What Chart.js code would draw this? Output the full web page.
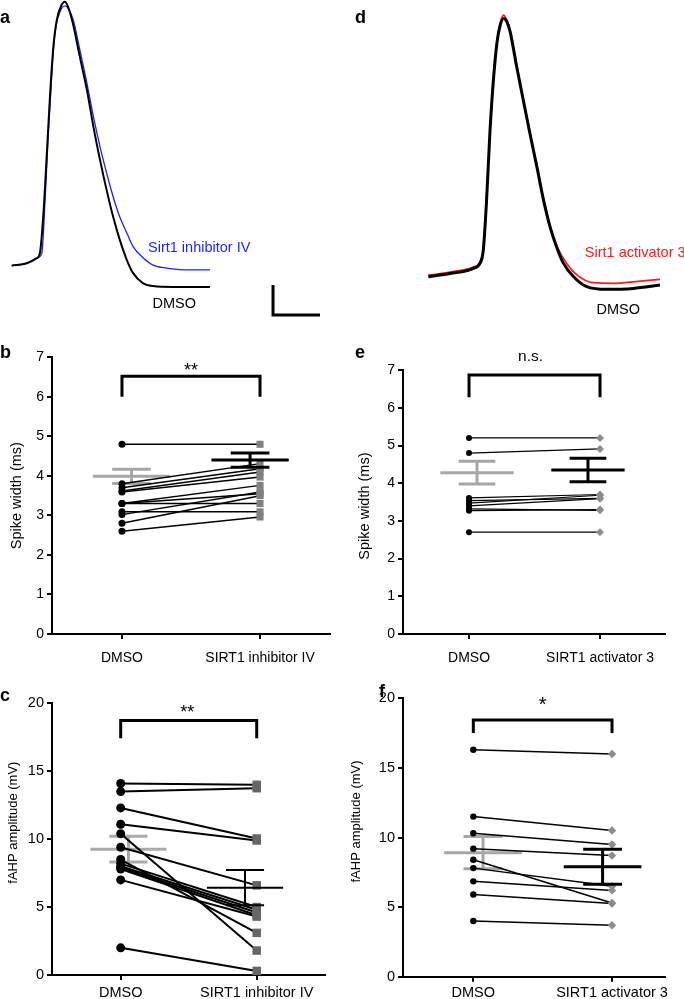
<!DOCTYPE html>
<html>
<head>
<meta charset="utf-8">
<script src="https://cdn.jsdelivr.net/npm/chart.js@4.4.0/dist/chart.umd.min.js"></script>
<style>
  body { margin: 0; background: #fff; width: 684px; height: 999px; position: relative; overflow: hidden;
         font-family: "Liberation Sans", Arial, Helvetica, sans-serif; }
  canvas { position: absolute; }
  .tag { position: absolute; font-weight: bold; font-size: 18px; line-height: 18px; }
</style>
</head>
<body>
<canvas id="ca" width="340" height="320" style="left:0;top:0"></canvas>
<canvas id="cd" width="344" height="320" style="left:340px;top:0"></canvas>
<canvas id="cb" width="340" height="330" style="left:0;top:340px"></canvas>
<canvas id="ce" width="344" height="330" style="left:340px;top:340px"></canvas>
<canvas id="cc" width="340" height="349" style="left:0;top:650px"></canvas>
<canvas id="cf" width="344" height="349" style="left:340px;top:650px"></canvas>
<div class="tag" style="left:0;top:8px">a</div>
<div class="tag" style="left:355px;top:8px">d</div>
<div class="tag" style="left:0;top:343px">b</div>
<div class="tag" style="left:355px;top:343px">e</div>
<div class="tag" style="left:0;top:686px">c</div>
<div class="tag" style="left:379px;top:682px">f</div>
<script>
// ---------- traces (time in ms, membrane potential in mV) ----------
const tA_dmso = [0, 0.32, 0.53, 0.60, 0.67, 0.74, 0.81, 0.88, 0.96, 1.06, 1.13, 1.20, 1.30, 1.45, 1.60, 1.74, 1.88, 2.02, 2.16, 2.30, 2.45, 2.58, 2.79, 3.01, 3.43, 4.22];
const vA_dmso = [-60, -59.2, -57.5, -55.8, -43.8, -24.8, -4.8, 11.9, 21.9, 26.9, 28, 26.3, 20.9, 9.6, -1.4, -13.8, -24.8, -34.8, -43.8, -51.4, -58.1, -62.4, -65.8, -66.8, -67.1, -67.1];
const tA_inh = [0, 0.32, 0.53, 0.64, 0.71, 0.78, 0.85, 0.92, 1.03, 1.13, 1.20, 1.31, 1.45, 1.60, 1.74, 1.88, 2.02, 2.16, 2.30, 2.45, 2.59, 2.80, 3.01, 3.30, 3.72, 4.22];
const vA_inh = [-60, -59.2, -57.5, -55.9, -38.1, -15.8, 2.9, 17.6, 24.7, 26.6, 25.8, 21.9, 11.9, 0.9, -10.4, -20.4, -29.1, -37.1, -43.8, -49.1, -53.8, -57.4, -59.8, -60.8, -61.4, -61.4];

const tD_dmso = [0, 0.46, 0.96, 1.10, 1.17, 1.24, 1.31, 1.38, 1.46, 1.53, 1.60, 1.67, 1.74, 1.88, 2.02, 2.16, 2.31, 2.45, 2.59, 2.73, 2.87, 3.09, 3.37, 3.80, 4.36, 4.93];
const vD_dmso = [-60, -58.9, -57.2, -55.5, -51.1, -34.4, -12.1, 4.6, 17.9, 23.9, 26.1, 25, 21.7, 10, -1.1, -12.1, -23.4, -34.4, -43.4, -50.1, -55.4, -60, -63.3, -64.2, -63.9, -62.8];
const tD_act = [0, 0.46, 0.96, 1.10, 1.17, 1.24, 1.31, 1.38, 1.46, 1.53, 1.60, 1.67, 1.74, 1.88, 2.02, 2.16, 2.31, 2.45, 2.59, 2.73, 2.94, 3.16, 3.51, 3.94, 4.36, 4.93];
const vD_act = [-59.5, -58.5, -56.8, -55.2, -51, -34, -12, 4.8, 18.2, 24.5, 27.2, 25.5, 22, 10.4, -0.8, -11.8, -23, -34, -43, -49.6, -55.5, -59.4, -62, -62.2, -61.7, -60.9];

// scale bar: 1 ms / 10 mV
const scaleBar = { t: 5.56, v: -76.4, dt: 1, dv: 10 };

// ---------- paired data ----------
const groupsInh = ['DMSO', 'SIRT1 inhibitor IV'];
const groupsAct = ['DMSO', 'SIRT1 activator 3'];

const widthDmsoB = [4.8, 3.8, 3.7, 3.62, 3.59, 3.3, 3.3, 3.3, 3.09, 3.02, 2.8, 2.6];
const widthInhB  = [4.8, 4.31, 4.18, 4.1, 3.97, 3.76, 3.3, 3.55, 3.09, 3.59, 3.5, 2.96];
const widthMeanB = [3.99, 4.40];
const widthSemB  = [0.18, 0.18];

const widthDmsoE = [5.2, 4.8, 3.61, 3.54, 3.47, 3.4, 3.32, 3.27, 2.7];
const widthActE  = [5.2, 4.91, 3.7, 3.6, 3.68, 3.59, 3.28, 3.3, 2.7];
const widthMeanE = [4.28, 4.35];
const widthSemE  = [0.3, 0.31];

const ahpDmsoC = [14.1, 13.5, 12.3, 11.1, 10.4, 9.4, 8.5, 8.2, 8.0, 7.9, 7.8, 7.0, 2.0];
const ahpInhC  = [14.0, 13.75, 10.05, 9.9, 1.8, 6.6, 3.1, 5.0, 4.8, 4.6, 4.4, 4.3, 0.3];
const ahpMeanC = [9.26, 6.43];
const ahpSemC  = [0.95, 1.29];

const ahpDmsoF = [16.3, 11.5, 10.3, 9.2, 8.4, 7.8, 6.85, 5.9, 4.0];
const ahpActF  = [16.0, 10.5, 9.5, 8.7, 5.3, 6.5, 6.2, 5.25, 3.7];
const ahpMeanF = [8.91, 7.9];
const ahpSemF  = [1.16, 1.25];

// ---------- drawing ----------
const FONT = '"Liberation Sans", Arial, Helvetica, sans-serif';
Chart.defaults.font.family = FONT;
Chart.defaults.color = '#000';

const MEAN_HALF = 0.28, CAP_HALF = 0.14;

const notes = {
  id: 'notes',
  afterDatasetsDraw(chart, args, opts) {
    const ctx = chart.ctx, xs = chart.scales.x, ys = chart.scales.y;
    (opts.items || []).forEach(n => {
      ctx.save();
      ctx.font = n.font;
      ctx.fillStyle = n.color || '#000';
      ctx.textAlign = n.align || 'center';
      ctx.textBaseline = 'middle';
      ctx.fillText(n.text, xs.getPixelForValue(n.x), ys.getPixelForValue(n.y));
      ctx.restore();
    });
    if (opts.yTitle) {
      const a = chart.chartArea, t = opts.yTitle;
      ctx.save();
      ctx.translate(a.left - t.dx, (a.top + a.bottom) / 2 - t.dy);
      ctx.rotate(-Math.PI / 2);
      ctx.font = t.size + 'px ' + FONT;
      ctx.fillStyle = '#000';
      ctx.textAlign = 'center';
      ctx.textBaseline = 'middle';
      ctx.fillText(t.text, 0, 0);
      ctx.restore();
    }
  }
};
Chart.register(notes);

function seg(points, color, width, order) {
  return { data: points, showLine: true, borderColor: color, borderWidth: width, pointRadius: 0,
           order: order, borderCapStyle: 'butt', borderJoinStyle: 'miter', clip: false };
}

function meanBars(x, mean, sem, color, width, order) {
  return [
    seg([{ x: x - MEAN_HALF, y: mean }, { x: x + MEAN_HALF, y: mean }], color, width, order),
    seg([{ x: x, y: mean - sem }, { x: x, y: mean + sem }], color, width, order),
    seg([{ x: x - CAP_HALF, y: mean + sem }, { x: x + CAP_HALF, y: mean + sem }], color, width, order),
    seg([{ x: x - CAP_HALF, y: mean - sem }, { x: x + CAP_HALF, y: mean - sem }], color, width, order)
  ];
}

function axisStyle() {
  return {
    grid: { drawOnChartArea: false, drawTicks: true, tickLength: 5, tickWidth: 2, tickColor: '#000', lineWidth: 2 },
    border: { display: true, color: '#000', width: 2 }
  };
}

function pairPanel(id, p) {
  const ds = [];
  meanBars(p.off[0], p.mean[0], p.sem[0], p.greyColor, p.meanW[0], 5).forEach(d => ds.push(d));
  p.ctrl.forEach((v, i) => ds.push(seg([{ x: 0, y: v }, { x: 1, y: p.treat[i] }], '#000', p.pairW, 4)));
  ds.push(seg([{ x: 0, y: p.bracket[0] }, { x: 0, y: p.bracket[1] }, { x: 1, y: p.bracket[1] }, { x: 1, y: p.bracket[0] }], '#000', 3, 4));
  ds.push({ data: p.treat.map(v => ({ x: 1, y: v })), pointStyle: p.treatStyle, pointRadius: p.treatR,
            backgroundColor: p.treatColor, borderWidth: 0, order: 3, clip: false });
  ds.push({ data: p.ctrl.map(v => ({ x: 0, y: v })), pointStyle: 'circle', pointRadius: p.ctrlR,
            backgroundColor: '#000', borderWidth: 0, order: 2, clip: false });
  meanBars(1 + p.off[1], p.mean[1], p.sem[1], '#000', p.meanW[1], 1).forEach(d => ds.push(d));

  new Chart(document.getElementById(id), {
    type: 'scatter',
    data: { datasets: ds },
    options: {
      responsive: false, animation: false, events: [],
      layout: { padding: { left: 0, top: p.top, right: p.right, bottom: 0 } },
      scales: {
        x: Object.assign(axisStyle(), {
          type: 'linear', min: p.xMin, max: p.xMax,
          afterBuildTicks: s => { s.ticks = [{ value: 0 }, { value: 1 }]; },
          afterFit: s => { s.height = p.xh; },
          ticks: { callback: v => (v === 0 ? p.labels[0] : p.labels[1]), padding: p.xPad,
                   font: { size: p.tickSize }, maxRotation: 0, autoSkip: false }
        }),
        y: Object.assign(axisStyle(), {
          min: 0, max: p.yMax,
          afterFit: s => { s.width = p.yw; },
          ticks: { stepSize: p.step, padding: 3, font: { size: p.tickSize } }
        })
      },
      plugins: {
        legend: { display: false }, tooltip: { enabled: false },
        notes: { items: [p.sig], yTitle: p.yTitle }
      }
    }
  });
}

function zip(t, v) { return t.map((x, i) => ({ x: x, y: v[i] })); }

function tracePanel(id, p) {
  const ds = p.traces.map(tr => ({
    data: zip(tr.t, tr.v), showLine: true, borderColor: tr.color, borderWidth: tr.width, pointRadius: 0,
    cubicInterpolationMode: 'monotone', order: tr.order, clip: false
  }));
  if (p.bar) {
    const b = p.bar;
    ds.push(seg([{ x: b.t, y: b.v + b.dv }, { x: b.t, y: b.v }, { x: b.t + b.dt, y: b.v }], '#000', 3, 0));
  }
  new Chart(document.getElementById(id), {
    type: 'scatter',
    data: { datasets: ds },
    options: {
      responsive: false, animation: false, events: [],
      layout: { padding: 0 },
      scales: {
        x: { type: 'linear', display: false, min: p.xMin, max: p.xMax },
        y: { display: false, min: p.yMin, max: p.yMax }
      },
      plugins: { legend: { display: false }, tooltip: { enabled: false }, notes: { items: p.labels } }
    }
  });
}

tracePanel('ca', {
  xMin: -0.249, xMax: 6.985, yMin: -78.1, yMax: 28.57,
  traces: [
    { t: tA_inh, v: vA_inh, color: '#1f1fff', width: 1.3, order: 2 },
    { t: tA_dmso, v: vA_dmso, color: '#000', width: 2, order: 1 }
  ],
  bar: scaleBar,
  labels: [
    { text: 'Sirt1 inhibitor IV', x: 2.9, y: -54, color: '#1f1fff', align: 'left', font: '14.5px ' + FONT },
    { text: 'DMSO', x: 3.46, y: -72.8, font: '14.5px ' + FONT }
  ]
});

tracePanel('cd', {
  xMin: -1.879, xMax: 5.44, yMin: -74.43, yMax: 32.23,
  traces: [
    { t: tD_act, v: vD_act, color: '#ff1a1a', width: 1.8, order: 2 },
    { t: tD_dmso, v: vD_dmso, color: '#000', width: 3, order: 1 }
  ],
  labels: [
    { text: 'Sirt1 activator 3', x: 3.33, y: -52.2, color: '#ff1a1a', align: 'left', font: '14.5px ' + FONT },
    { text: 'DMSO', x: 4.04, y: -71.1, font: '14.5px ' + FONT }
  ]
});

pairPanel('cb', {
  labels: groupsInh, ctrl: widthDmsoB, treat: widthInhB, mean: widthMeanB, sem: widthSemB,
  off: [0.069, -0.072], meanW: [3, 3], greyColor: '#a6a6a6', pairW: 1.5,
  ctrlR: 3.5, treatStyle: 'rect', treatR: 5, treatColor: '#808080',
  yMax: 7, step: 1, xMin: -0.507, xMax: 1.507,
  top: 17.3, right: 10, yw: 52, xh: 36, xPad: 11, tickSize: 14,
  bracket: [6.0, 6.52],
  sig: { text: '**', x: 0.5, y: 6.65, font: '18px ' + FONT },
  yTitle: { text: 'Spike width (ms)', dx: 35, dy: 0, size: 14.5 }
});

pairPanel('ce', {
  labels: groupsAct, ctrl: widthDmsoE, treat: widthActE, mean: widthMeanE, sem: widthSemE,
  off: [0.061, -0.092], meanW: [3, 3], greyColor: '#a6a6a6', pairW: 1.2,
  ctrlR: 3, treatStyle: 'rectRot', treatR: 4, treatColor: '#8c8c8c',
  yMax: 7, step: 1, xMin: -0.504, xMax: 1.496,
  top: 30.1, right: 19, yw: 63, xh: 36, xPad: 11, tickSize: 14,
  bracket: [6.28, 6.87],
  sig: { text: 'n.s.', x: 0.47, y: 7.35, font: '15.5px ' + FONT },
  yTitle: { text: 'Spike width (ms)', dx: 38, dy: -4, size: 14.5 }
});

pairPanel('cc', {
  labels: groupsInh, ctrl: ahpDmsoC, treat: ahpInhC, mean: ahpMeanC, sem: ahpSemC,
  off: [0.057, -0.086], meanW: [3, 2], greyColor: '#aaaaaa', pairW: 2,
  ctrlR: 4.5, treatStyle: 'rect', treatR: 6, treatColor: '#666666',
  yMax: 20, step: 5, xMin: -0.505, xMax: 1.502,
  top: 53.3, right: 15, yw: 52, xh: 24, xPad: 4, tickSize: 14.5,
  bracket: [17.43, 18.73],
  sig: { text: '**', x: 0.49, y: 19.26, font: '18px ' + FONT },
  yTitle: { text: 'fAHP amplitude (mV)', dx: 38.5, dy: 16.5, size: 13 }
});

pairPanel('cf', {
  labels: groupsAct, ctrl: ahpDmsoF, treat: ahpActF, mean: ahpMeanF, sem: ahpSemF,
  off: [0.07, -0.068], meanW: [3, 3], greyColor: '#a6a6a6', pairW: 1.5,
  ctrlR: 3.2, treatStyle: 'rectRot', treatR: 4.2, treatColor: '#8c8c8c',
  yMax: 20, step: 5, xMin: -0.507, xMax: 1.382,
  top: 48.3, right: 19, yw: 63, xh: 22.3, xPad: 3, tickSize: 14.5,
  bracket: [17.5, 18.44],
  sig: { text: '*', x: 0.5, y: 19.48, font: '20px ' + FONT },
  yTitle: { text: 'fAHP amplitude (mV)', dx: 47, dy: 16, size: 13 }
});
</script>
</body>
</html>
